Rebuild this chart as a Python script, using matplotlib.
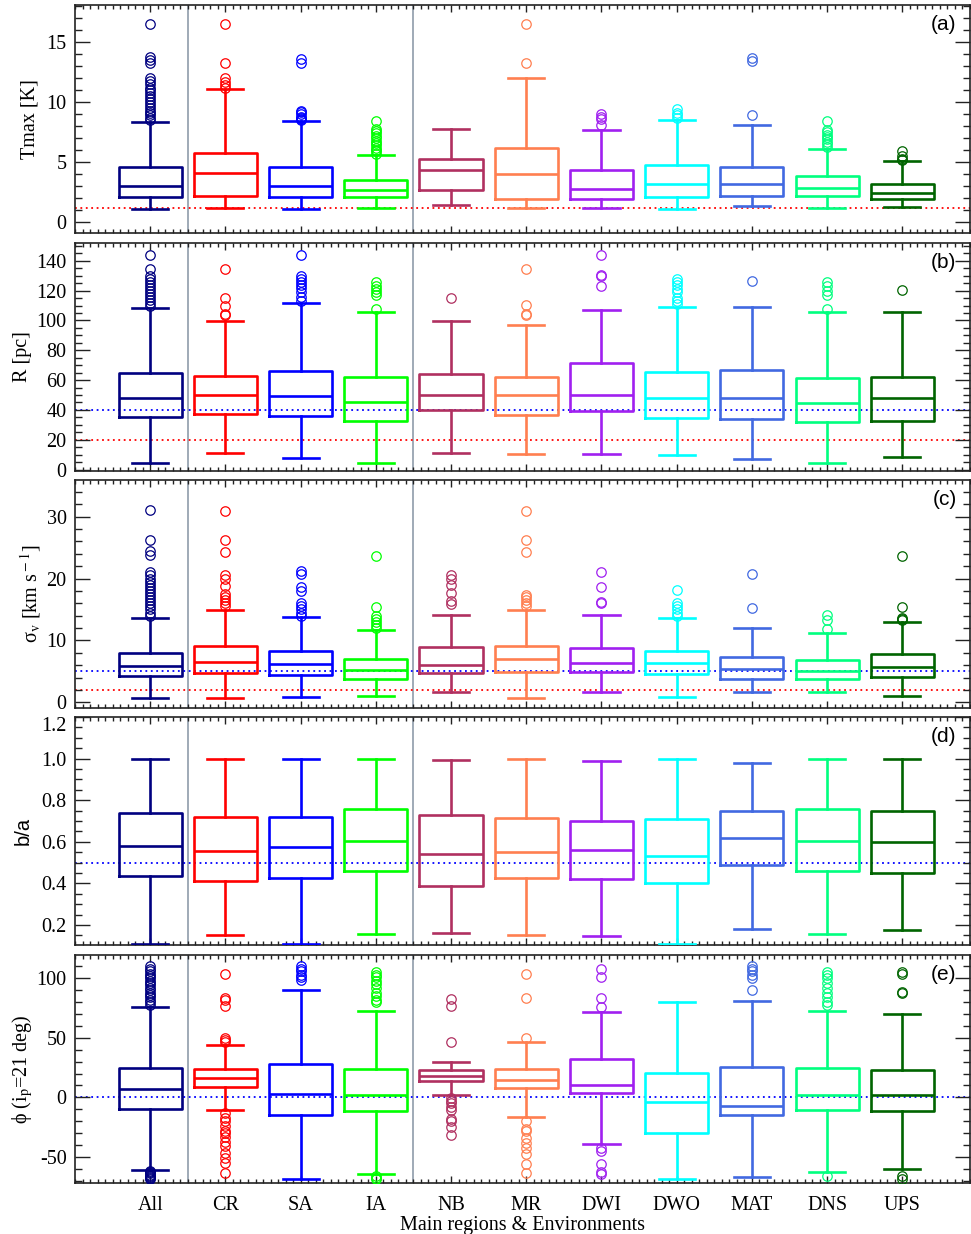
import numpy as np
import matplotlib.pyplot as plt
from matplotlib.ticker import MultipleLocator, FormatStrFormatter

plt.rcParams['font.family'] = ['Liberation Serif', 'DejaVu Serif']
plt.rcParams['mathtext.fontset'] = 'stix'
plt.rcParams['axes.unicode_minus'] = False

categories = ['All', 'CR', 'SA', 'IA', 'NB', 'MR', 'DWI', 'DWO', 'MAT', 'DNS', 'UPS']
colors = ['#000080', '#FF0000', '#0000FF', '#00FF00', '#B03060', '#FF7F50',
          '#A020F0', '#00FFFF', '#4169E1', '#00FF7F', '#006400']

# (a) Tmax [K]
tmax_q1 = [2.13, 2.19, 2.13, 2.13, 2.69, 1.94, 1.94, 2.13, 2.19, 2.19, 1.94]
tmax_med = [3.03, 4.13, 3.03, 2.69, 4.33, 4.05, 2.75, 3.17, 3.22, 2.86, 2.42]
tmax_q3 = [4.63, 5.78, 4.63, 3.53, 5.28, 6.17, 4.36, 4.78, 4.63, 3.83, 3.22]
tmax_lo = [1.13, 1.22, 1.13, 1.22, 1.47, 1.22, 1.22, 1.13, 1.33, 1.22, 1.25]
tmax_hi = [8.36, 11.08, 8.4, 5.58, 7.78, 12.05, 7.67, 8.55, 8.08, 6.11, 5.08]
tmax_fliers = [
    [8.5, 8.7, 8.9, 9.1, 9.3, 9.5, 9.8, 10.0, 10.3, 10.5, 10.8, 11.0, 11.2, 11.5, 11.8, 12.0, 13.3, 13.5, 13.75, 16.55],
    [11.2, 11.4, 11.7, 12.0, 13.3, 16.55],
    [8.5, 8.6, 8.7, 8.8, 9.0, 9.2, 9.3, 13.3, 13.6],
    [5.7, 5.9, 6.0, 6.2, 6.4, 6.6, 6.8, 7.0, 7.2, 7.4, 7.6, 7.8, 8.4],
    [],
    [13.3, 16.55],
    [8.1, 8.6, 8.8, 9.0],
    [8.7, 8.9, 9.1, 9.4],
    [8.9, 13.4, 13.7],
    [6.3, 6.5, 6.7, 6.9, 7.1, 7.3, 7.5, 7.7, 8.4],
    [5.2, 5.3, 5.5, 5.95],
]

# (b) R [pc]
r_q1 = [35.3, 37.1, 35.6, 32.4, 39.6, 36.7, 39.4, 34.7, 34.2, 32.2, 32.7]
r_med = [48.1, 49.7, 49.2, 45.2, 49.7, 49.9, 50.3, 48.1, 48.1, 44.5, 48.1]
r_q3 = [64.7, 62.6, 66.4, 62.0, 63.8, 62.2, 71.6, 65.1, 67.1, 61.7, 62.2]
r_lo = [4.5, 11.0, 7.4, 4.5, 11.0, 10.7, 10.7, 9.8, 7.2, 4.5, 8.1]
r_hi = [108.5, 99.8, 111.9, 105.8, 99.8, 97.1, 106.9, 108.9, 108.9, 106.0, 105.4]
r_fliers = [
    [110, 112, 114, 116, 118, 120, 122, 124, 126, 128, 130, 134.5, 144],
    [103.5, 104.5, 110, 115.4, 134.5],
    [113, 116, 118.8, 122, 124, 126, 128, 130, 144],
    [107.8, 117, 119, 121, 123, 126],
    [115.4],
    [103.5, 104.5, 110.3, 134.5],
    [123.3, 129.8, 130.6, 144],
    [111, 113, 115, 119, 121, 124, 126, 128],
    [126.4],
    [108, 117.2, 120, 123, 126],
    [120.4],
]

# (c) sigma_v [km/s]
sig_q1 = [4.19, 4.78, 4.46, 3.82, 4.68, 4.84, 4.89, 4.57, 3.82, 3.76, 4.03]
sig_med = [5.91, 6.56, 6.13, 5.22, 6.08, 6.99, 6.34, 6.34, 5.32, 5.0, 5.75]
sig_q3 = [8.0, 9.09, 8.23, 7.04, 8.87, 9.03, 8.82, 8.23, 7.37, 6.77, 7.74]
sig_lo = [0.7, 0.7, 0.86, 1.08, 1.61, 0.65, 1.61, 0.81, 1.72, 1.61, 1.02]
sig_hi = [13.55, 14.9, 13.76, 11.67, 14.1, 14.9, 14.14, 13.55, 12.04, 11.13, 12.96]
sig_fliers = [
    [14, 14.5, 15, 15.5, 16, 16.5, 17, 17.5, 18, 18.5, 19, 19.5, 20, 20.5, 21, 23.8, 24.4, 26.2, 31.0],
    [15.5, 16, 16.5, 17, 17.5, 18.8, 20, 20.5, 24.2, 26.2, 30.9],
    [14, 14.5, 15, 15.5, 16, 18, 18.6, 20.8, 21.2],
    [12, 12.5, 13, 13.5, 14, 15.4, 23.7],
    [15.9, 16.3, 17.7, 18.9, 20, 20.6],
    [15.5, 16, 16.5, 17, 17.3, 24.2, 26.2, 30.9],
    [16.0, 16.2, 18.6, 21.1],
    [13.9, 14.5, 15, 15.5, 16, 18.1],
    [15.2, 20.8],
    [11.9, 13.3, 14.1],
    [13.3, 13.5, 13.7, 15.4, 23.7],
]

# (d) b/a
ba_q1 = [0.436, 0.412, 0.428, 0.458, 0.388, 0.426, 0.420, 0.404, 0.488, 0.461, 0.448]
ba_med = [0.578, 0.554, 0.575, 0.602, 0.543, 0.553, 0.561, 0.533, 0.617, 0.602, 0.597]
ba_q3 = [0.737, 0.718, 0.721, 0.758, 0.727, 0.716, 0.702, 0.711, 0.748, 0.759, 0.746]
ba_lo = [0.11, 0.152, 0.11, 0.155, 0.163, 0.15, 0.147, 0.109, 0.182, 0.155, 0.176]
ba_hi = [1.0, 0.996, 1.0, 1.0, 0.995, 0.996, 0.99, 1.0, 0.98, 1.0, 1.0]
ba_fliers = [[] for _ in categories]

# (e) phi (i_p = 21 deg)
phi_q1 = [-9.5, 8.9, -15.1, -11.5, 14.0, 7.5, 3.9, -30.4, -14.8, -10.9, -11.7]
phi_med = [7.3, 15.9, 3.1, 2.0, 17.9, 14.2, 10.3, -4.2, -7.3, 2.0, 2.2]
phi_q3 = [24.6, 23.5, 28.2, 24.0, 22.9, 23.7, 32.4, 20.7, 25.4, 24.9, 22.6]
phi_lo = [-60.9, -10.9, -68.7, -64.2, 2.0, -16.2, -39.1, -69.0, -66.8, -62.6, -60.0]
phi_hi = [75.7, 43.9, 90.2, 72.9, 29.9, 46.6, 72.1, 79.9, 80.7, 72.9, 69.8]
phi_fliers = [
    [78, 80, 82, 84, 86, 88, 90, 92, 94, 96, 98, 100, 102, 104, 106, 108, 110,
     -62, -63, -64, -65, -66, -67, -68, -69],
    [46.9, 48, 49.5, 76.5, 82, 83.2, 103.4, -13, -17, -20, -24, -28.5, -30.4,
     -33.5, -37.4, -41, -46.6, -50.8, -55.6, -63.7],
    [99, 101, 103, 106, 108, 110],
    [80, 82, 85, 88, 92, 95, 98, 101, 103, 105.6, -66, -68, -69],
    [46.6, 76.8, 82.7, -0.5, -3, -5, -8, -11, -18, -20, -25.1, -31.8],
    [49.7, 83.8, 103.4, -20.1, -27, -28.5, -34, -38.3, -42.5, -47.5, -55.9, -63.7],
    [76.3, 83.8, 101.4, 107.8, -43, -45.3, -56.4, -63.1, -64.2],
    [],
    [90.2, 100, 103, 106, 108, 110.6],
    [78, 80, 84, 88, 92, 96, 100, 103, 105.6, -65.9],
    [88, 88.8, 104, 105, -65.9, -69],
]

# reference levels (blue, red) for each panel
blue_levels = [None, 40, 5, 0.5, 0]
red_levels = [1.2, 20, 2, None, None]


def make_stats(q1, med, q3, lo, hi, fl):
    stats = []
    for i in range(len(q1)):
        stats.append({'q1': q1[i], 'med': med[i], 'q3': q3[i],
                      'whislo': lo[i], 'whishi': hi[i], 'fliers': fl[i]})
    return stats


panels = [
    (make_stats(tmax_q1, tmax_med, tmax_q3, tmax_lo, tmax_hi, tmax_fliers),
     'Tmax [K]', (-0.9, 18.1), 5, 1, '%d', '(a)', 30),
    (make_stats(r_q1, r_med, r_q3, r_lo, r_hi, r_fliers),
     'R [pc]', (-1, 152), 20, 5, '%d', '(b)', 22),
    (make_stats(sig_q1, sig_med, sig_q3, sig_lo, sig_hi, sig_fliers),
     'σ$_{\\rm v}$ [km s$^{\\rm -1}$]', (-0.9, 35.9), 10, 2, '%d', '(c)', 31),
    (make_stats(ba_q1, ba_med, ba_q3, ba_lo, ba_hi, ba_fliers),
     'b/a', (0.104, 1.2), 0.2, 0.05, '%.1f', '(d)', 23),
    (make_stats(phi_q1, phi_med, phi_q3, phi_lo, phi_hi, phi_fliers),
     'ϕ (i$_{\\rm p}$=21 deg)', (-72, 119.6), 50, 10, '%d', '(e)', 23),
]

fig = plt.figure(figsize=(9.71, 12.34), dpi=100)
W, H = 971.0, 1234.0
ax_left, ax_right = 75, 970
tops = [5, 243, 480, 717, 955]
ax_h = 228
positions = np.arange(1, len(categories) + 1)
axes = []

for k, (stats, ylab, ylim, major, minor, fmt, tag, lab_x) in enumerate(panels):
    top = tops[k]
    ax = fig.add_axes([ax_left / W, 1 - (top + ax_h) / H,
                       (ax_right - ax_left) / W, ax_h / H])
    axes.append(ax)

    for sep in [1.5, 4.5]:
        ax.axvline(sep, color='#8593A3', lw=1.1, zorder=1)
    if blue_levels[k] is not None:
        ax.axhline(blue_levels[k], color='#0000FF', lw=1.3, ls=(0, (1, 2)), zorder=1)
    if red_levels[k] is not None:
        ax.axhline(red_levels[k], color='#FF0000', lw=1.3, ls=(0, (1, 2)), zorder=1)

    for i, st in enumerate(stats):
        c = colors[i]
        ax.bxp([st], positions=[positions[i]], widths=0.84, capwidths=0.48,
               manage_ticks=False, zorder=3,
               boxprops=dict(color=c, lw=1.9),
               medianprops=dict(color=c, lw=1.9),
               whiskerprops=dict(color=c, lw=1.9),
               capprops=dict(color=c, lw=1.9),
               flierprops=dict(marker='o', mfc='none', mec=c, ms=6.8, mew=0.9))

    ax.set_xlim(0, 11.9)
    ax.set_ylim(*ylim)
    ax.set_xticks(positions)
    ax.xaxis.set_minor_locator(MultipleLocator(0.1))
    ax.yaxis.set_major_locator(MultipleLocator(major))
    ax.yaxis.set_minor_locator(MultipleLocator(minor))
    ax.yaxis.set_major_formatter(FormatStrFormatter(fmt))
    ax.tick_params(which='both', direction='in', top=True, right=True,
                   labelsize=14.5, width=1.0, colors='#222222', labelcolor='black')
    ax.tick_params(axis='y', which='major', length=11, pad=6)
    ax.tick_params(axis='y', which='minor', length=5)
    ax.tick_params(axis='x', which='major', length=5, pad=9)
    ax.tick_params(axis='x', which='minor', length=3)
    for sp in ax.spines.values():
        sp.set_linewidth(1.2)
        sp.set_color('#222222')

    if k == len(panels) - 1:
        ax.set_xticklabels(categories)
        ax.set_xlabel('Main regions & Environments', fontsize=14.5, labelpad=1)
    else:
        ax.set_xticklabels([])

    yfont = ['Liberation Sans'] if ylab == 'b/a' else ['Liberation Serif', 'DejaVu Serif']
    ax.text((lab_x - ax_left) / (ax_right - ax_left), 0.5, ylab,
            transform=ax.transAxes, rotation=90, ha='center', va='center',
            fontsize=14.5, family=yfont)
    ax.text(0.985, 0.915, tag, transform=ax.transAxes, ha='right', va='center',
            fontsize=15, family='Liberation Sans')

# the 1.2 label of panel (d) sits just below its tick, as in the original
fig.canvas.draw()
for t in axes[3].yaxis.get_major_ticks():
    if abs(t.get_loc() - 1.2) < 1e-6:
        t.label1.set_verticalalignment('top')

fig.savefig('out.png', dpi=100)
